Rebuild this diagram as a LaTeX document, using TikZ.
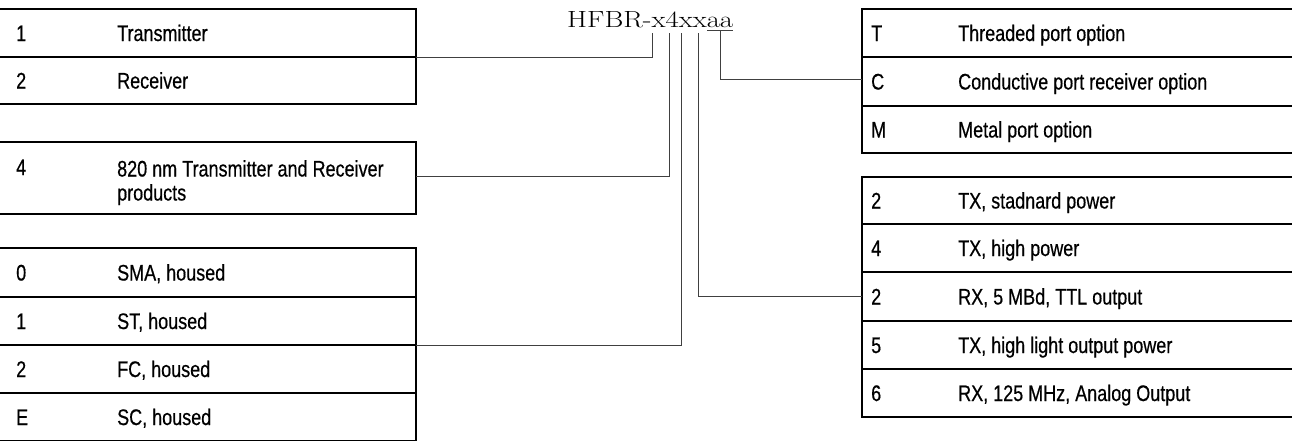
\documentclass[tikz,border=0pt]{standalone}
\usepackage{fontspec}
\usepackage{graphicx}
\newfontfamily\condsans[FakeStretch=0.8,FakeBold=0.5]{Liberation Sans}
\usetikzlibrary{calc}
\begin{document}
\begin{tikzpicture}[x=1pt,y=-1pt,
  rowbox/.style={anchor=north west, inner sep=0, outer sep=0, minimum width=#1},
  lrow/.style={rowbox=416},
  rrow/.style={rowbox=430},
  boxline/.style={line width=1.8pt, black},
  conn/.style={line width=1pt, black!75},
  lbl/.style={anchor=base west, inner sep=0, font=\condsans\fontsize{22.5}{24}\selectfont}
]
\useasboundingbox (0,0) rectangle (1292,440);

% ---------- title ----------
\node[anchor=base west, inner sep=0] (title) at (567,27)
  {\resizebox{166pt}{16pt}{\fontsize{20}{24}\selectfont HFBR-x4xxaa}};

% ---------- left rows ----------
\node[lrow, minimum height=48] (l1) at (0,9) {};
\node[lrow, minimum height=47] (l2) at (0,57) {};
\node[lrow, minimum height=72] (l4) at (0,142) {};
\node[lrow, minimum height=49] (l0) at (0,248) {};
\node[lrow, minimum height=48] (lS) at (0,297) {};
\node[lrow, minimum height=48] (lF) at (0,345) {};
\node[lrow, minimum height=48] (lE) at (0,393) {};

% ---------- right rows ----------
\node[rrow, minimum height=48] (rT) at (862,9) {};
\node[rrow, minimum height=49] (rC) at (862,57) {};
\node[rrow, minimum height=47] (rM) at (862,106) {};
\node[rrow, minimum height=47] (r2) at (862,177) {};
\node[rrow, minimum height=48] (r4) at (862,224) {};
\node[rrow, minimum height=49] (rR) at (862,272) {};
\node[rrow, minimum height=48] (r5) at (862,321) {};
\node[rrow, minimum height=48] (r6) at (862,369) {};

% ---------- left texts ----------
\node[lbl] (n1) at ($(l1.west)+(16,8)$) {1};
\node[lbl] (d1) at ($(l1.west)+(117,8)$) {Transmitter};
\node[lbl] (n2) at ($(l2.west)+(16,8)$) {2};
\node[lbl] (d2) at ($(l2.west)+(117,8)$) {Receiver};
\node[lbl] (n4) at ($(l4.north west)+(16,33)$) {4};
\node[lbl, anchor=north west, align=left] (d4) at ($(l4.north west)+(117,18)$)
  {820 nm Transmitter and Receiver\\products};
\node[lbl] (n0) at ($(l0.west)+(16,8)$) {0};
\node[lbl] (d0) at ($(l0.west)+(117,8)$) {SMA, housed};
\node[lbl] (nS) at ($(lS.west)+(16,8)$) {1};
\node[lbl] (dS) at ($(lS.west)+(117,8)$) {ST, housed};
\node[lbl] (nF) at ($(lF.west)+(16,8)$) {2};
\node[lbl] (dF) at ($(lF.west)+(117,8)$) {FC, housed};
\node[lbl] (nE) at ($(lE.west)+(16,8)$) {E};
\node[lbl] (dE) at ($(lE.west)+(117,8)$) {SC, housed};

% ---------- right texts ----------
\node[lbl] (nT) at ($(rT.west)+(9,8)$) {T};
\node[lbl] (dT) at ($(rT.west)+(96,8)$) {Threaded port option};
\node[lbl] (nC) at ($(rC.west)+(9,8)$) {C};
\node[lbl] (dC) at ($(rC.west)+(96,8)$) {Conductive port receiver option};
\node[lbl] (nM) at ($(rM.west)+(9,8)$) {M};
\node[lbl] (dM) at ($(rM.west)+(96,8)$) {Metal port option};
\node[lbl] (n22) at ($(r2.west)+(9,8)$) {2};
\node[lbl] (d22) at ($(r2.west)+(96,8)$) {TX, stadnard power};
\node[lbl] (n44) at ($(r4.west)+(9,8)$) {4};
\node[lbl] (d44) at ($(r4.west)+(96,8)$) {TX, high power};
\node[lbl] (nRR) at ($(rR.west)+(9,8)$) {2};
\node[lbl] (dRR) at ($(rR.west)+(96,8)$) {RX, 5 MBd, TTL output};
\node[lbl] (n55) at ($(r5.west)+(9,8)$) {5};
\node[lbl] (d55) at ($(r5.west)+(96,8)$) {TX, high light output power};
\node[lbl] (n66) at ($(r6.west)+(9,8)$) {6};
\node[lbl] (d66) at ($(r6.west)+(96,8)$) {RX, 125 MHz, Analog Output};

% ---------- box borders ----------
\draw[boxline] (l1.north west) -- (l1.north east) -- (l2.south east) -- (l2.south west);
\draw[boxline] (l1.south west) -- (l1.south east);
\draw[boxline] (l4.north west) -- (l4.north east) -- (l4.south east) -- (l4.south west);
\draw[boxline] (l0.north west) -- (l0.north east) -- (lE.south east) -- (lE.south west);
\draw[boxline] (l0.south west) -- (l0.south east);
\draw[boxline] (lS.south west) -- (lS.south east);
\draw[boxline] (lF.south west) -- (lF.south east);

\draw[boxline] (rT.north east) -- (rT.north west) -- (rM.south west) -- (rM.south east);
\draw[boxline] (rT.south west) -- (rT.south east);
\draw[boxline] (rC.south west) -- (rC.south east);
\draw[boxline] (r2.north east) -- (r2.north west) -- (r6.south west) -- (r6.south east);
\draw[boxline] (r2.south west) -- (r2.south east);
\draw[boxline] (r4.south west) -- (r4.south east);
\draw[boxline] (rR.south west) -- (rR.south east);
\draw[boxline] (r5.south west) -- (r5.south east);

% ---------- connectors ----------
\coordinate (cA) at (652,33);
\coordinate (cB) at (669,33);
\coordinate (cC) at (681,33);
\coordinate (cD) at (698,33);
\coordinate (uL) at (707,30.5);
\coordinate (uR) at (733,30.5);
\coordinate (cE) at (720,30.5);

\draw[conn] (uL) -- (uR);
\draw[conn] (l1.south east) -| (cA);
\draw[conn] ($(l4.east)+(0,-2)$) -| (cB);
\draw[conn] (lS.south east) -| (cC);
\draw[conn] (cD) |- (rR.west);
\draw[conn] (cE) |- ($(rC.west)+(0,-2)$);
\end{tikzpicture}
\end{document}
